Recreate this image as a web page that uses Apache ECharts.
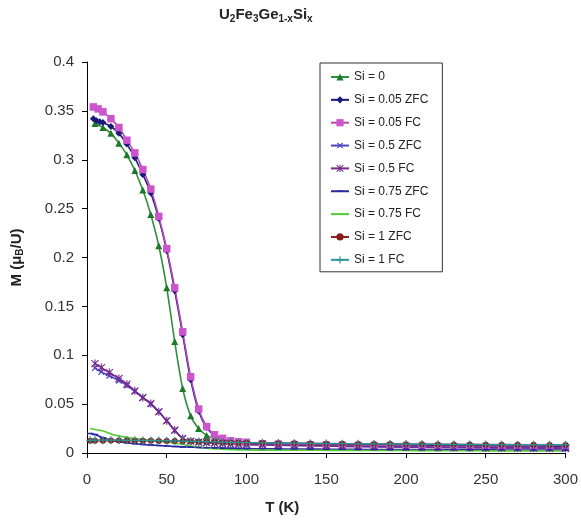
<!DOCTYPE html>
<html>
<head>
<meta charset="utf-8">
<script src="https://cdn.jsdelivr.net/npm/echarts@6/dist/echarts.min.js"></script>
<style>
html,body{margin:0;padding:0;background:#fff;}
#chart{width:581px;height:520px;}
</style>
</head>
<body>
<div id="chart"></div>
<script>
// ---------- data ----------
const seriesNames = ['Si = 0','Si = 0.05 ZFC','Si = 0.05 FC','Si = 0.5 ZFC','Si = 0.5 FC','Si = 0.75 ZFC','Si = 0.75 FC','Si = 1 ZFC','Si = 1 FC'];
const xTicks = [0,50,100,150,200,250,300];
const yTicks = [0,0.05,0.1,0.15,0.2,0.25,0.3,0.35,0.4];

const tHigh = [110,120,130,140,150,160,170,180,190,200,210,220,230,240,250,260,270,280,290,300];

const tSi0 = [5,10,15,20,25,30,35,40,45,50,55,60,65,70,75,80,85,90,95,100];
const mSi0 = [0.337,0.333,0.327,0.317,0.305,0.289,0.269,0.244,0.212,0.169,0.114,0.066,0.038,0.025,0.018,0.015,0.013,0.012,0.011,0.0105];
const mSi0High = [0.0100,0.0097,0.0094,0.0091,0.0089,0.0087,0.0085,0.0083,0.0081,0.0079,0.0077,0.0075,0.0073,0.0071,0.0069,0.0067,0.0066,0.0064,0.0063,0.0062];

const tSi005Z = [4,6,8,10,15,20,25,30,35,40,45,50,55,60,65,70,75,80,85,90,95,100];
const mSi005Z = [0.342,0.340,0.339,0.338,0.334,0.327,0.316,0.302,0.285,0.266,0.240,0.207,0.166,0.121,0.075,0.043,0.026,0.018,0.014,0.012,0.011,0.0105];
const mSi005ZHigh = [0.0100,0.0097,0.0094,0.0091,0.0088,0.0086,0.0084,0.0082,0.0080,0.0078,0.0076,0.0074,0.0072,0.0071,0.0069,0.0068,0.0067,0.0066,0.0065,0.0064];

const tSi005F = [4,7,10,15,20,25,30,35,40,45,50,55,60,65,70,75,80,85,90,95,100];
const mSi005F = [0.354,0.352,0.349,0.342,0.333,0.320,0.307,0.290,0.270,0.242,0.209,0.169,0.124,0.078,0.045,0.027,0.0187,0.015,0.0125,0.0115,0.0109];
const mSi005FHigh = [0.0095,0.0090,0.0086,0.0083,0.0080,0.0078,0.0076,0.0074,0.0072,0.0070,0.0068,0.0066,0.0064,0.0063,0.0061,0.0060,0.0059,0.0058,0.0057,0.0056];

const tSi05 = [5,9,14,20,25,30,35,40,45,50,55,60,65,70,75,80,85,90,95,100];
const mSi05Z = [0.087,0.083,0.079,0.074,0.069,0.063,0.0565,0.050,0.042,0.033,0.023,0.015,0.012,0.011,0.0105,0.010,0.0095,0.009,0.0088,0.0086];
const mSi05ZHigh = [0.0083,0.0080,0.0077,0.0074,0.0071,0.0068,0.0066,0.0064,0.0062,0.0060,0.0058,0.0056,0.0055,0.0054,0.0053,0.0052,0.0051,0.0050,0.0049,0.0048];
const mSi05F = [0.0915,0.0874,0.0823,0.0762,0.0704,0.0636,0.0568,0.0507,0.0422,0.033,0.0235,0.015,0.0122,0.0112,0.0106,0.0101,0.0096,0.0092,0.0089,0.0087];
const mSi05FHigh = [0.0084,0.0081,0.0078,0.0075,0.0072,0.0069,0.0067,0.0065,0.0063,0.0061,0.0059,0.0057,0.0056,0.0055,0.0054,0.0053,0.0052,0.0051,0.0050,0.0049];

const tSi075 = [2,5,10,15,20,25,30,35,40,45,50,55,60,65,70,75,80,85,90,95,100];
const mSi075Z = [0.0200,0.0190,0.0155,0.0130,0.0115,0.0105,0.0095,0.0088,0.0082,0.0076,0.0071,0.0067,0.0063,0.0060,0.0057,0.0054,0.0052,0.0050,0.0048,0.0046,0.0045];
const mSi075ZHigh = [0.0043,0.0042,0.0041,0.0040,0.0039,0.0038,0.0037,0.0036,0.0035,0.0035,0.0034,0.0033,0.0033,0.0032,0.0032,0.0031,0.0031,0.0030,0.0030,0.0030];
const mSi075F = [0.0250,0.0240,0.0225,0.0195,0.0175,0.0160,0.0148,0.0140,0.0130,0.0120,0.0112,0.0100,0.0088,0.0072,0.0060,0.0050,0.0043,0.0038,0.0035,0.0032,0.0030];
const mSi075FHigh = [0.0029,0.0029,0.0028,0.0028,0.0027,0.0027,0.0026,0.0026,0.0025,0.0025,0.0024,0.0024,0.0023,0.0023,0.0022,0.0022,0.0021,0.0021,0.0020,0.0020];

const tSi1 = [2,5,10,15,20,25,30,35,40,45,50,55,60,65,70,75,80,85,90,95,100];
const mSi1Z = [0.0125,0.0126,0.0126,0.0127,0.0127,0.0127,0.0126,0.0126,0.0125,0.0124,0.0123,0.0122,0.0120,0.0118,0.0116,0.0114,0.0112,0.0110,0.0108,0.0106,0.0105];
const mSi1ZHigh = [0.0103,0.0101,0.0099,0.0097,0.0095,0.0094,0.0093,0.0092,0.0091,0.0090,0.0089,0.0088,0.0087,0.0086,0.0085,0.0085,0.0084,0.0084,0.0083,0.0083];
const mSi1F = [0.0130,0.0131,0.0131,0.0131,0.0131,0.0130,0.0130,0.0129,0.0128,0.0127,0.0126,0.0124,0.0122,0.0120,0.0118,0.0116,0.0114,0.0112,0.0110,0.0108,0.0106];
const mSi1FHigh = [0.0104,0.0102,0.0100,0.0098,0.0096,0.0095,0.0094,0.0093,0.0092,0.0091,0.0090,0.0089,0.0088,0.0087,0.0086,0.0086,0.0085,0.0085,0.0084,0.0084];

// ---------- build ----------
function pairs(t, m, th, mh){
  const out = [];
  t.forEach((x,i)=>out.push([x, m[i]]));
  th.forEach((x,i)=>out.push([x, mh[i]]));
  return out;
}
const PLUS = 'path://M4.2,0H5.8V4.2H10V5.8H5.8V10H4.2V5.8H0V4.2H4.2Z';
const ASTER = 'path://M4.3,0H5.7V10H4.3Z M1.1,0.1L5,4L8.9,0.1L9.9,1.1L6,5L9.9,8.9L8.9,9.9L5,6L1.1,9.9L0.1,8.9L4,5L0.1,1.1Z';
// short horizontal dash inside a square box (tiny corner points keep the box square)
const DASH = 'path://M0,0L0.01,0L0,0.01Z M10,10L9.99,10L10,9.99Z M1,4H9V6H1Z';

const styles = [
  {line:'#2f8f3a', mark:'#1b7a28', symbol:'triangle', size:7},
  {line:'#1a1a7a', mark:'#1a1a7a', symbol:'diamond', size:7},
  {line:'#b548b5', mark:'#cc55cc', symbol:'rect', size:7.5},
  {line:'#4848c8', mark:'#4848c8', symbol:PLUS, size:8, rot:45},
  {line:'#7a2a8a', mark:'#7a2a8a', symbol:ASTER, size:8},
  {line:'#2828a0', mark:'#2828a0', symbol:DASH, size:8},
  {line:'#55cc33', mark:'#55cc33', symbol:'none', size:0},
  {line:'#8a1a1a', mark:'#8a1a1a', symbol:'circle', size:6},
  {line:'#2a9595', mark:'#2a9595', symbol:PLUS, size:8}
];
const datasets = [
  pairs(tSi0, mSi0, tHigh, mSi0High),
  pairs(tSi005Z, mSi005Z, tHigh, mSi005ZHigh),
  pairs(tSi005F, mSi005F, tHigh, mSi005FHigh),
  pairs(tSi05, mSi05Z, tHigh, mSi05ZHigh),
  pairs(tSi05, mSi05F, tHigh, mSi05FHigh),
  pairs(tSi075, mSi075Z, tHigh, mSi075ZHigh),
  pairs(tSi075, mSi075F, tHigh, mSi075FHigh),
  pairs(tSi1, mSi1Z, tHigh, mSi1ZHigh),
  pairs(tSi1, mSi1F, tHigh, mSi1FHigh)
];

const series = seriesNames.map((name,i)=>{
  const s = styles[i];
  return {
    name: name,
    type: 'line',
    data: datasets[i],
    smooth: 0.3,
    symbol: s.symbol,
    symbolSize: s.size,
    symbolRotate: s.rot || 0,
    showSymbol: s.symbol !== 'none',
    lineStyle: {color: s.line, width: 1.6},
    itemStyle: {color: s.mark, borderColor: s.mark, borderWidth: 0},
    emphasis: {disabled: true},
    animation: false
  };
});

const legendData = seriesNames.map((n,i)=> styles[i].symbol === 'none'
  ? {name: n, itemStyle: {color: 'rgba(0,0,0,0)', borderWidth: 0, opacity: 0}}
  : {name: n});

const FONT = '"Liberation Sans", Arial, sans-serif';
const chart = echarts.init(document.getElementById('chart'), null, {renderer:'canvas'});
chart.setOption({
  backgroundColor: '#ffffff',
  animation: false,
  title: {
    text: '{n|U}{s|2}{n|Fe}{s|3}{n|Ge}{s|1-x}{n|Si}{s|x}',
    left: 219, top: 6, padding: 0,
    textStyle: {
      rich: {
        n: {fontFamily: FONT, fontSize: 15, fontWeight: 'bold', color: '#222', lineHeight: 18},
        s: {fontFamily: FONT, fontSize: 10, fontWeight: 'bold', color: '#222', lineHeight: 18, padding: [9,0,0,0]}
      }
    }
  },
  legend: {
    orient: 'vertical',
    left: 320, top: 63,
    padding: [8, 14, 6, 10],
    itemWidth: 18, itemHeight: 9, itemGap: 10.85, itemTextGap: 4,
    borderColor: '#333', borderWidth: 1,
    backgroundColor: '#fff',
    textStyle: {fontFamily: FONT, fontSize: 12, color: '#222'},
    data: legendData
  },
  grid: {left: 87, right: 14, top: 62, bottom: 66, containLabel: false},
  xAxis: {
    type: 'value', min: 0, max: 300, interval: 50,
    name: 'T (K)', nameLocation: 'middle', nameGap: 47,
    nameTextStyle: {fontFamily: FONT, fontSize: 15, fontWeight: 'bold', color: '#222', padding: [0, 88, 0, 0]},
    axisLine: {show: true, onZero: false, lineStyle: {color: '#000', width: 1}},
    axisTick: {show: true, inside: false, length: 5, lineStyle: {color: '#000'}},
    axisLabel: {fontFamily: FONT, fontSize: 15, color: '#333', margin: 19,
      formatter: v => xTicks.indexOf(v) >= 0 ? String(v) : ''},
    splitLine: {show: false}
  },
  yAxis: {
    type: 'value', min: 0, max: 0.4, interval: 0.05,
    name: '{n|M (μ}{s|B}{n|/U)}', nameLocation: 'middle', nameGap: 62, nameRotate: 90,
    nameTextStyle: {
      rich: {
        n: {fontFamily: FONT, fontSize: 15, fontWeight: 'bold', color: '#222', lineHeight: 17},
        s: {fontFamily: FONT, fontSize: 10, fontWeight: 'bold', color: '#222', lineHeight: 17, padding: [7,0,0,0]}
      }
    },
    axisLine: {show: true, lineStyle: {color: '#000', width: 1}},
    axisTick: {show: true, inside: false, length: 5, lineStyle: {color: '#000'}},
    axisLabel: {fontFamily: FONT, fontSize: 15, color: '#333', margin: 13,
      formatter: v => {
        const k = yTicks.findIndex(t => Math.abs(t - v) < 1e-9);
        return k >= 0 ? String(yTicks[k]) : '';
      }},
    splitLine: {show: false}
  },
  series: series
});
</script>
</body>
</html>
